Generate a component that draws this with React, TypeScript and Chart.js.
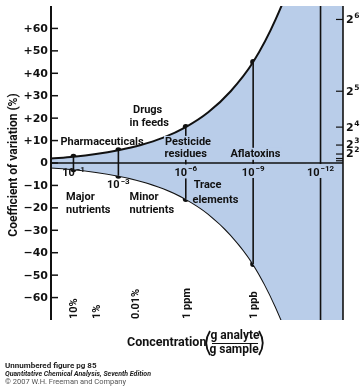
import React, { useEffect, useRef } from "react";
import { Chart, registerables } from "chart.js";
Chart.register(...registerables);

// x = -log10(concentration), y = coefficient of variation (%)
const exponents = [0, 1, 2, 3, 4, 5, 6, 7, 8, 9, 10, 11, 12, 13];
const upperCV = [2, 2.8, 4, 5.7, 8, 11.3, 16, 22.6, 32, 45, 64, 90, 128, 181];
const lowerCV = [-2, -2.8, -4, -5.7, -8, -11.3, -16, -22.6, -32, -45, -64, -90, -128, -181];

const markedExponents = [1, 3, 6, 9];
const markedUpper = [2.8, 5.7, 16, 45];
const markedLower = [-2.8, -5.7, -16, -45];

const leftTicks = [60, 50, 40, 30, 20, 10, 0, -10, -20, -30, -40, -50, -60];
const leftTickLabels = ["+60", "+50", "+40", "+30", "+20", "+10", "0", "\u221210", "\u221220", "\u221230", "\u221240", "\u221250", "\u221260"];

const rightTicks = [64, 32, 16, 8, 4, 2, 1];
const rightTickBases = ["2", "2", "2", "2", "2"];
const rightTickPowers = ["6", "5", "4", "3", "2"];

const decadeExponents = [1, 3, 6, 9, 12];
const decadePowers = ["\u22121", "\u22123", "\u22126", "\u22129", "\u221212"];

const concExponents = [1, 2, 3.75, 6, 9];
const concLabels = ["10%", "1%", "0.01%", "1 ppm", "1 ppb"];

const FILL = "#b9cde9";
const INK = "#111";
const TXT = "'Liberation Sans Narrow', Roboto, sans-serif";
const NUM = "'DejaVu Sans', sans-serif";
const ROT = "Roboto, sans-serif";

const overlay = {
  id: "overlay",
  afterDatasetsDraw(chart: any) {
    const ctx = chart.ctx as CanvasRenderingContext2D;
    const xs = chart.scales.x;
    const ys = chart.scales.y;
    const a = chart.chartArea;
    const px = (v: number) => xs.getPixelForValue(v);
    const py = (v: number) => ys.getPixelForValue(v);
    ctx.save();
    ctx.strokeStyle = INK;
    ctx.fillStyle = INK;
    ctx.lineCap = "butt";

    // connectors
    ctx.lineWidth = 1.6;
    markedExponents.forEach((e, i) => {
      ctx.beginPath();
      ctx.moveTo(px(e), py(markedUpper[i]));
      ctx.lineTo(px(e), py(markedLower[i]));
      ctx.stroke();
    });
    ctx.beginPath();
    ctx.moveTo(px(12), a.top);
    ctx.lineTo(px(12), a.bottom);
    ctx.stroke();

    // zero line
    ctx.lineWidth = 1.6;
    ctx.beginPath();
    ctx.moveTo(a.left, py(0));
    ctx.lineTo(a.right, py(0));
    ctx.stroke();

    // left axis
    ctx.lineWidth = 2;
    ctx.beginPath();
    ctx.moveTo(a.left, a.top);
    ctx.lineTo(a.left, a.bottom);
    ctx.stroke();
    ctx.lineWidth = 1.5;
    ctx.font = `bold 11px ${NUM}`;
    ctx.textAlign = "right";
    ctx.textBaseline = "middle";
    leftTicks.forEach((t, i) => {
      const y = py(t);
      ctx.beginPath();
      ctx.moveTo(a.left, y);
      ctx.lineTo(a.left + 7, y);
      ctx.stroke();
      ctx.fillText(leftTickLabels[i], a.left - 3, y + 0.5);
    });

    // right axis
    ctx.lineWidth = 1.6;
    ctx.beginPath();
    ctx.moveTo(a.right, a.top);
    ctx.lineTo(a.right, a.bottom);
    ctx.stroke();
    ctx.lineWidth = 1.2;
    rightTicks.forEach((t) => {
      const y = py(t);
      ctx.beginPath();
      ctx.moveTo(a.right - 7, y);
      ctx.lineTo(a.right, y);
      ctx.stroke();
    });
    const rightLabelOffsets = [0, 0, 0, -1, -1];
    rightTickBases.forEach((b, i) => {
      const y = py(rightTicks[i]) + rightLabelOffsets[i];
      ctx.textAlign = "left";
      ctx.textBaseline = "middle";
      ctx.font = `bold 11px ${NUM}`;
      ctx.fillText(b, a.right + 3, y + 1);
      const w = ctx.measureText(b).width;
      ctx.font = `bold 7.5px ${NUM}`;
      ctx.fillText(rightTickPowers[i], a.right + 3 + w + 0.5, y - 3);
    });

    // power-of-ten labels
    const pow10 = (sup: string, cx: number, cy: number, knock: boolean) => {
      ctx.font = `bold 11px ${TXT}`;
      const w1 = ctx.measureText("10").width;
      ctx.font = `bold 8px ${TXT}`;
      const w2 = ctx.measureText(sup).width;
      const x0 = cx - (w1 + w2 + 1) / 2;
      if (knock) {
        ctx.fillStyle = FILL;
        ctx.fillRect(x0 - 1, cy - 8, w1 + w2 + 3, 14);
        ctx.fillStyle = INK;
      }
      ctx.textAlign = "left";
      ctx.textBaseline = "middle";
      ctx.font = `bold 11px ${TXT}`;
      ctx.fillText("10", x0, cy + 1);
      ctx.font = `bold 8px ${TXT}`;
      ctx.fillText(sup, x0 + w1 + 1, cy - 3);
    };
    const decadeY = [-4.3, -9.6, -4.2, -4.0, -4.0];
    decadeExponents.forEach((e, i) => {
      pow10(decadePowers[i], px(e), py(decadeY[i]), i >= 2);
    });

    // category labels
    const label = (text: string, x: number, y: number, align: CanvasTextAlign, knock: boolean) => {
      ctx.font = `bold 11px ${TXT}`;
      ctx.textAlign = align;
      ctx.textBaseline = "middle";
      if (knock) {
        const w = ctx.measureText(text).width;
        const lx = align === "center" ? x - w / 2 : x;
        ctx.fillStyle = FILL;
        ctx.fillRect(lx - 1, y - 6, w + 2, 12);
        ctx.fillStyle = INK;
      }
      ctx.fillText(text, x, y);
    };
    label("Pharmaceuticals", px(0.42), py(9.4), "left", false);
    label("Drugs", px(3.65), py(23.6), "left", false);
    label("in feeds", px(3.5), py(17.6), "left", false);
    label("Pesticide", px(6.1), py(9.4), "center", true);
    label("residues", px(6.0), py(4.1), "center", true);
    label("Aflatoxins", px(9.1), py(4.1), "center", true);
    label("Major", px(0.67), py(-15.2), "left", false);
    label("nutrients", px(0.67), py(-21), "left", false);
    label("Minor", px(3.5), py(-15.2), "left", false);
    label("nutrients", px(3.5), py(-21), "left", false);
    label("Trace", px(6.35), py(-9.8), "left", false);
    label("elements", px(6.3), py(-16.5), "left", false);

    // rotated concentration labels
    ctx.font = `bold 11px ${ROT}`;
    concExponents.forEach((e, i) => {
      ctx.save();
      ctx.translate(px(e) + 1, a.bottom - 1);
      ctx.rotate(-Math.PI / 2);
      ctx.textAlign = "left";
      ctx.textBaseline = "middle";
      ctx.fillText(concLabels[i], 0, 0);
      ctx.restore();
    });

    // y title
    ctx.save();
    ctx.translate(14, 165);
    ctx.rotate(-Math.PI / 2);
    ctx.textAlign = "center";
    ctx.textBaseline = "middle";
    ctx.font = `bold 12px ${TXT}`;
    ctx.fillText("Coefficient of variation (%)", 0, 0);
    ctx.restore();

    // x title
    ctx.textAlign = "left";
    ctx.textBaseline = "middle";
    ctx.font = `bold 12.5px ${TXT}`;
    ctx.fillText("Concentration", 127, 343);
    ctx.font = `bold 12px ${TXT}`;
    ctx.textAlign = "center";
    ctx.fillText("g analyte", 235, 336);
    ctx.fillText("g sample", 234, 350);
    ctx.lineWidth = 1.2;
    ctx.beginPath();
    ctx.moveTo(212, 343.5);
    ctx.lineTo(258, 343.5);
    ctx.stroke();
    // parentheses
    ctx.lineWidth = 1.8;
    ctx.beginPath();
    ctx.moveTo(210, 331);
    ctx.quadraticCurveTo(202.5, 343, 210, 355);
    ctx.stroke();
    ctx.beginPath();
    ctx.moveTo(259, 331);
    ctx.quadraticCurveTo(266.5, 343, 259, 355);
    ctx.stroke();

    // footer
    ctx.textAlign = "left";
    ctx.font = `bold 8px ${TXT}`;
    ctx.fillStyle = "#222";
    ctx.fillText("Unnumbered figure pg 85", 5, 366);
    ctx.font = `italic bold 7px ${TXT}`;
    ctx.fillText("Quantitative Chemical Analysis, Seventh Edition", 5, 374);
    ctx.font = `7.5px ${TXT}`;
    ctx.fillStyle = "#555";
    ctx.fillText("\u00a9 2007 W.H. Freeman and Company", 5, 382.5);

    ctx.restore();
  },
};

export default function App() {
  const ref = useRef<HTMLCanvasElement>(null);
  useEffect(() => {
    if (!ref.current) return;
    const chart = new Chart(ref.current, {
      type: "line",
      data: {
        datasets: [
          {
            data: exponents.map((e, i) => ({ x: e, y: upperCV[i] })),
            borderColor: INK,
            borderWidth: 2,
            pointRadius: 0,
            cubicInterpolationMode: "monotone",
            fill: "+1",
            backgroundColor: FILL,
          },
          {
            data: exponents.map((e, i) => ({ x: e, y: lowerCV[i] })),
            borderColor: INK,
            borderWidth: 2,
            pointRadius: 0,
            cubicInterpolationMode: "monotone",
            fill: false,
          },
          {
            data: [
              ...markedExponents.map((e, i) => ({ x: e, y: markedUpper[i] })),
              ...markedExponents.map((e, i) => ({ x: e, y: markedLower[i] })),
            ],
            showLine: false,
            pointRadius: 3,
            pointBackgroundColor: INK,
            pointBorderWidth: 0,
            fill: false,
          },
        ],
      },
      options: {
        responsive: false,
        maintainAspectRatio: false,
        animation: false,
        layout: { padding: { left: 51, right: 19, top: 6, bottom: 68 } },
        scales: {
          x: { type: "linear", min: 0, max: 13, display: false },
          y: { type: "linear", min: -70, max: 70, display: false },
        },
        plugins: { legend: { display: false }, tooltip: { enabled: false } },
      },
      plugins: [overlay],
    } as any);
    return () => chart.destroy();
  }, []);
  return (
    <div style={{ position: "fixed", left: 0, top: 0, width: 362, height: 388, background: "#fff" }}>
      <canvas ref={ref} width={362} height={388} style={{ display: "block", width: 362, height: 388 }} />
    </div>
  );
}
